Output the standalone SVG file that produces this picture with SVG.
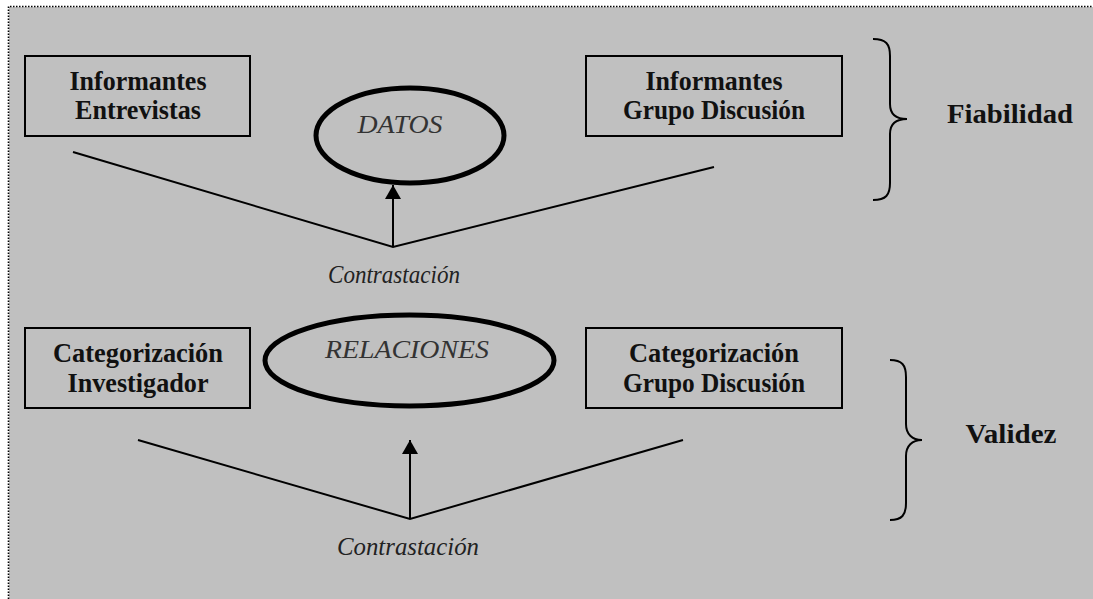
<svg xmlns="http://www.w3.org/2000/svg" width="1093" height="599" viewBox="0 0 1093 599">
  <style>
    .box { fill: none; stroke: #000; stroke-width: 2; }
    .oval { fill: none; stroke: #000; stroke-width: 5; }
    .lbl { font-family: "Liberation Serif", "DejaVu Serif", serif; font-weight: bold; font-size: 27px; fill: #111; text-anchor: middle; }
    .it { font-family: "Liberation Serif", "DejaVu Serif", serif; font-style: italic; font-size: 26px; fill: #222; text-anchor: middle; }
    .oval-t { font-family: "Liberation Serif", "DejaVu Serif", serif; font-style: italic; font-size: 26px; fill: #333; text-anchor: middle; }
    .wire { fill: none; stroke: #000; stroke-width: 2; }
    .brace { fill: none; stroke: #000; stroke-width: 2; }
  </style>
  <defs>
    <marker id="head" viewBox="0 0 14 16" refX="14" refY="8" markerWidth="14" markerHeight="16" markerUnits="userSpaceOnUse" orient="auto">
      <path d="M0,0 L14,8 L0,16 Z" fill="#000"/>
    </marker>
  </defs>

  <!-- panel -->
  <rect x="9" y="7" width="1090" height="600" fill="#c0c0c0"/>
  <path d="M8.5,599 V6.5 H1093" fill="none" stroke="#000" stroke-width="1.6" stroke-dasharray="1.5 1.5"/>

  <!-- upper section: reliability -->
  <g id="informantes-entrevistas">
    <rect class="box" x="25" y="56" width="225" height="80"/>
    <text class="lbl" x="138" y="90" textLength="137" lengthAdjust="spacingAndGlyphs">Informantes</text>
    <text class="lbl" x="138" y="119" textLength="126" lengthAdjust="spacingAndGlyphs">Entrevistas</text>
  </g>
  <g id="datos">
    <ellipse class="oval" cx="410" cy="135.5" rx="94" ry="47.5"/>
    <text class="oval-t" x="400" y="133" textLength="85" lengthAdjust="spacingAndGlyphs">DATOS</text>
  </g>
  <g id="informantes-grupo">
    <rect class="box" x="586" y="56" width="256" height="80"/>
    <text class="lbl" x="714" y="90" textLength="137" lengthAdjust="spacingAndGlyphs">Informantes</text>
    <text class="lbl" x="714" y="119" textLength="182" lengthAdjust="spacingAndGlyphs">Grupo Discusión</text>
  </g>
  <g id="fiabilidad">
    <path class="brace" d="M873,39 C886,39 890,44 890,56 V104 C890,114 896,119 907,119 C896,119 890,124 890,134 V183 C890,195 886,200 873,200"/>
    <text class="lbl" x="1010" y="123" textLength="126" lengthAdjust="spacingAndGlyphs">Fiabilidad</text>
  </g>
  <g id="contrastacion-1">
    <text class="it" x="394" y="283" textLength="132" lengthAdjust="spacingAndGlyphs">Contrastación</text>
  </g>

  <!-- lower section: validity -->
  <g id="categorizacion-investigador">
    <rect class="box" x="25" y="328" width="225" height="80"/>
    <text class="lbl" x="138" y="362" textLength="170" lengthAdjust="spacingAndGlyphs">Categorización</text>
    <text class="lbl" x="138" y="392" textLength="141" lengthAdjust="spacingAndGlyphs">Investigador</text>
  </g>
  <g id="relaciones">
    <ellipse class="oval" cx="409.5" cy="360.5" rx="144.5" ry="45.5"/>
    <text class="oval-t" x="407" y="358" textLength="164" lengthAdjust="spacingAndGlyphs">RELACIONES</text>
  </g>
  <g id="categorizacion-grupo">
    <rect class="box" x="586" y="328" width="256" height="80"/>
    <text class="lbl" x="714" y="362" textLength="170" lengthAdjust="spacingAndGlyphs">Categorización</text>
    <text class="lbl" x="714" y="392" textLength="182" lengthAdjust="spacingAndGlyphs">Grupo Discusión</text>
  </g>
  <g id="validez">
    <path class="brace" d="M890,360 C902,360 906,365 906,377 V424 C906,434 912,440 922,440 C912,440 906,446 906,456 V503 C906,515 902,520 890,520"/>
    <text class="lbl" x="1011" y="443" textLength="91" lengthAdjust="spacingAndGlyphs">Validez</text>
  </g>
  <g id="contrastacion-2">
    <text class="it" x="408" y="555" textLength="142" lengthAdjust="spacingAndGlyphs">Contrastación</text>
  </g>

  <!-- connectors -->
  <g id="connectors">
    <polyline class="wire" points="73,152 393,247 714,167"/>
    <line class="wire" x1="393" y1="247" x2="393" y2="185" marker-end="url(#head)"/>
    <polyline class="wire" points="138,440 410,519 683,440"/>
    <line class="wire" x1="410" y1="519" x2="410" y2="440" marker-end="url(#head)"/>
  </g>
</svg>
